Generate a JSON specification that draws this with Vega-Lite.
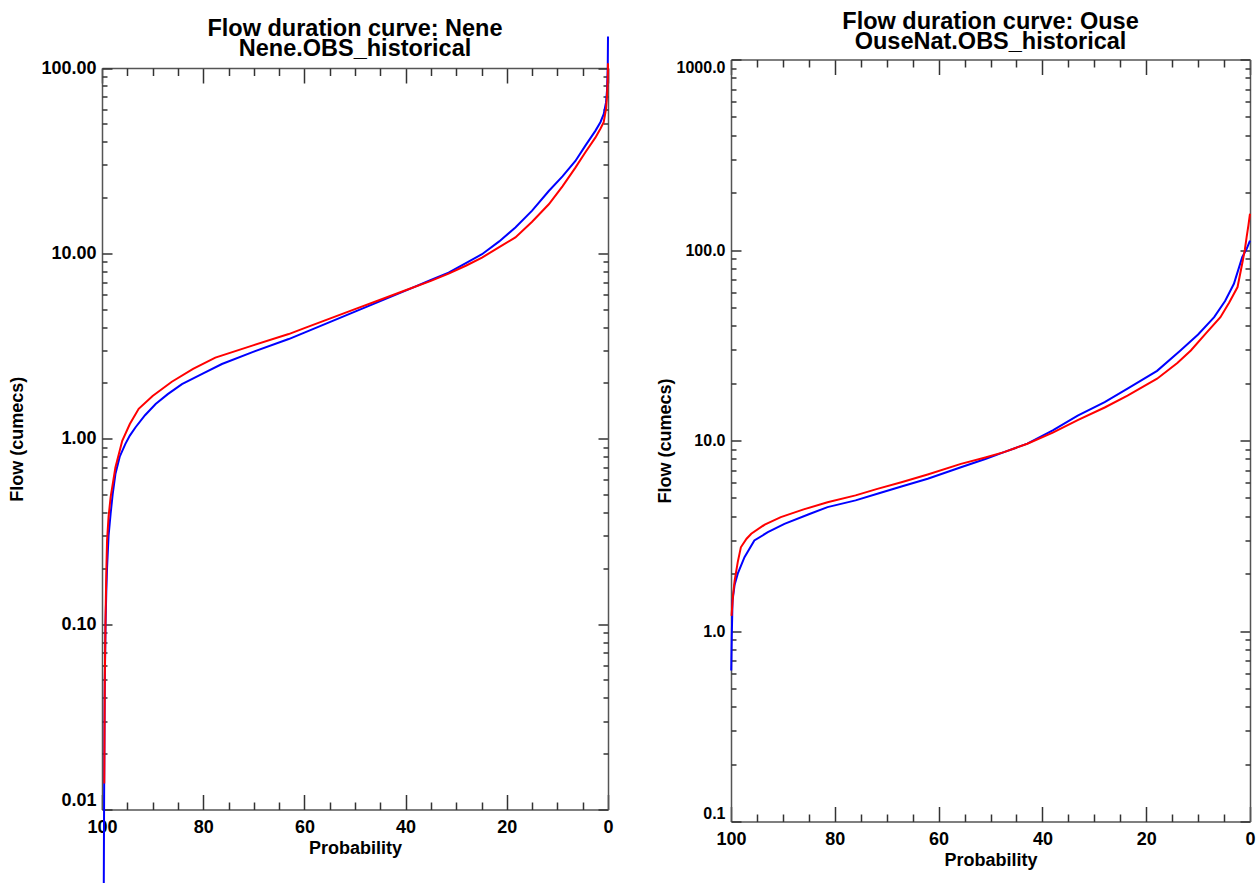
{
  "$schema": "https://vega.github.io/schema/vega-lite/v6.json",
  "padding": {"left": 8, "top": 9.5, "right": 0, "bottom": 0},
  "background": "white",
  "datasets": {
    "nene": [
      {"s":"blue","p":99.65,"q":0.0038},{"s":"blue","p":99.58,"q":0.012},{"s":"blue","p":99.5,"q":0.03},{"s":"blue","p":99.45,"q":0.048},{"s":"blue","p":99.3,"q":0.1},{"s":"blue","p":99.15,"q":0.15},{"s":"blue","p":99.0,"q":0.202},{"s":"blue","p":98.7,"q":0.3},{"s":"blue","p":98.3,"q":0.393},{"s":"blue","p":97.9,"q":0.5},{"s":"blue","p":97.35,"q":0.645},{"s":"blue","p":96.5,"q":0.8},{"s":"blue","p":95.4,"q":0.936},{"s":"blue","p":94.5,"q":1.04},{"s":"blue","p":93.4,"q":1.15},{"s":"blue","p":91.5,"q":1.34},{"s":"blue","p":89.4,"q":1.54},{"s":"blue","p":87,"q":1.74},{"s":"blue","p":84.2,"q":1.97},{"s":"blue","p":80,"q":2.25},{"s":"blue","p":76.3,"q":2.53},{"s":"blue","p":70,"q":2.95},{"s":"blue","p":63.1,"q":3.45},{"s":"blue","p":60,"q":3.74},{"s":"blue","p":55,"q":4.26},{"s":"blue","p":50,"q":4.85},{"s":"blue","p":45,"q":5.53},{"s":"blue","p":40,"q":6.3},{"s":"blue","p":35,"q":7.18},{"s":"blue","p":31.5,"q":7.88},{"s":"blue","p":28,"q":8.9},{"s":"blue","p":24.9,"q":9.9},{"s":"blue","p":21.5,"q":11.6},{"s":"blue","p":18.3,"q":13.8},{"s":"blue","p":15,"q":17.0},{"s":"blue","p":11.7,"q":21.7},{"s":"blue","p":9,"q":26},{"s":"blue","p":6.44,"q":31.5},{"s":"blue","p":4.5,"q":38},{"s":"blue","p":2.5,"q":45.8},{"s":"blue","p":1.5,"q":51},{"s":"blue","p":0.85,"q":56.3},{"s":"blue","p":0.4,"q":65},{"s":"blue","p":0.2,"q":75.2},{"s":"blue","p":0.05,"q":100},{"s":"blue","p":0,"q":148},
      {"s":"red","p":99.55,"q":0.0138},{"s":"red","p":99.45,"q":0.05},{"s":"red","p":99.3,"q":0.109},{"s":"red","p":99.15,"q":0.19},{"s":"red","p":99.0,"q":0.282},{"s":"red","p":98.7,"q":0.38},{"s":"red","p":98.3,"q":0.483},{"s":"red","p":97.35,"q":0.7},{"s":"red","p":96.0,"q":0.975},{"s":"red","p":94.5,"q":1.2},{"s":"red","p":92.75,"q":1.45},{"s":"red","p":90,"q":1.7},{"s":"red","p":86.2,"q":2.03},{"s":"red","p":82,"q":2.38},{"s":"red","p":77.6,"q":2.74},{"s":"red","p":70,"q":3.2},{"s":"red","p":63.1,"q":3.67},{"s":"red","p":60,"q":3.95},{"s":"red","p":55,"q":4.45},{"s":"red","p":50,"q":5.0},{"s":"red","p":45,"q":5.62},{"s":"red","p":40,"q":6.33},{"s":"red","p":35,"q":7.11},{"s":"red","p":31.5,"q":7.78},{"s":"red","p":28,"q":8.6},{"s":"red","p":24.9,"q":9.49},{"s":"red","p":21.5,"q":10.8},{"s":"red","p":18.3,"q":12.2},{"s":"red","p":15,"q":14.8},{"s":"red","p":11.7,"q":18.4},{"s":"red","p":9,"q":23},{"s":"red","p":6.44,"q":29.0},{"s":"red","p":4.5,"q":35},{"s":"red","p":2.5,"q":42.1},{"s":"red","p":1.5,"q":47},{"s":"red","p":0.85,"q":51},{"s":"red","p":0.4,"q":60},{"s":"red","p":0.2,"q":70},{"s":"red","p":0.05,"q":88},{"s":"red","p":0,"q":106}
    ],
    "ouse": [
      {"s":"blue","p":99.95,"q":0.62},{"s":"blue","p":99.85,"q":0.95},{"s":"blue","p":99.7,"q":1.45},{"s":"blue","p":99.3,"q":1.75},{"s":"blue","p":98.7,"q":2.0},{"s":"blue","p":97.4,"q":2.44},{"s":"blue","p":95.5,"q":2.99},{"s":"blue","p":92.9,"q":3.3},{"s":"blue","p":89.7,"q":3.65},{"s":"blue","p":85,"q":4.1},{"s":"blue","p":81.4,"q":4.47},{"s":"blue","p":76,"q":4.85},{"s":"blue","p":71.8,"q":5.25},{"s":"blue","p":67,"q":5.75},{"s":"blue","p":62.1,"q":6.3},{"s":"blue","p":55.7,"q":7.24},{"s":"blue","p":51,"q":8.0},{"s":"blue","p":47.4,"q":8.69},{"s":"blue","p":42.9,"q":9.62},{"s":"blue","p":38,"q":11.3},{"s":"blue","p":33.2,"q":13.5},{"s":"blue","p":28,"q":15.9},{"s":"blue","p":23.6,"q":18.7},{"s":"blue","p":17.9,"q":23.2},{"s":"blue","p":13.4,"q":29.7},{"s":"blue","p":10,"q":36},{"s":"blue","p":6.9,"q":44.4},{"s":"blue","p":4.8,"q":54},{"s":"blue","p":3.1,"q":66.5},{"s":"blue","p":1.5,"q":91.7},{"s":"blue","p":0.6,"q":102},{"s":"blue","p":0,"q":112},
      {"s":"red","p":99.9,"q":1.2},{"s":"red","p":99.6,"q":1.55},{"s":"red","p":99.3,"q":1.84},{"s":"red","p":98.7,"q":2.3},{"s":"red","p":98.1,"q":2.75},{"s":"red","p":97,"q":3.05},{"s":"red","p":96.1,"q":3.24},{"s":"red","p":93.5,"q":3.62},{"s":"red","p":90.4,"q":3.96},{"s":"red","p":86,"q":4.35},{"s":"red","p":81.4,"q":4.74},{"s":"red","p":76,"q":5.15},{"s":"red","p":71.8,"q":5.57},{"s":"red","p":67,"q":6.05},{"s":"red","p":62.1,"q":6.63},{"s":"red","p":55.7,"q":7.54},{"s":"red","p":51,"q":8.15},{"s":"red","p":47.4,"q":8.69},{"s":"red","p":42.9,"q":9.62},{"s":"red","p":38,"q":11.0},{"s":"red","p":33.2,"q":12.8},{"s":"red","p":28,"q":14.9},{"s":"red","p":23.6,"q":17.2},{"s":"red","p":17.9,"q":21.1},{"s":"red","p":14,"q":25.5},{"s":"red","p":11.4,"q":29.7},{"s":"red","p":8.5,"q":36.5},{"s":"red","p":5.7,"q":44.4},{"s":"red","p":4,"q":53},{"s":"red","p":2.4,"q":63.9},{"s":"red","p":1.5,"q":85},{"s":"red","p":1.0,"q":100},{"s":"red","p":0.65,"q":116.7},{"s":"red","p":0.3,"q":135},{"s":"red","p":0,"q":155}
    ]
  },
  "spacing": 42,
  "hconcat": [
    {
      "width": 506,
      "height": 750,
      "title": {"text": ["Flow duration curve: Nene", "Nene.OBS_historical"], "offset": -28.5},
      "data": {"name": "nene"},
      "resolve": {"axis": {"x": "independent", "y": "independent"}},
      "layer": [
        {
          "transform": [{"filter": "datum.s === 'blue'"}],
          "mark": {"type": "line", "color": "#0000ff", "strokeWidth": 2, "clip": false},
          "encoding": {
            "x": {"field": "p", "type": "quantitative", "scale": {"domain": [0, 100], "reverse": true},
                  "axis": {"orient": "bottom", "values": [0, 20, 40, 60, 80, 100], "format": "d", "ticks": false, "tickSize": 0, "labelPadding": 9, "labelFlush": false, "labelOverlap": false, "title": "Probability", "titlePadding": 3}},
            "y": {"field": "q", "type": "quantitative", "scale": {"type": "log", "domain": [0.01, 100], "range": [750, 8.5], "nice": false},
                  "axis": {"orient": "left", "values": [0.01, 0.1, 1, 10, 100], "format": ".2f", "ticks": false, "tickSize": 0, "labelPadding": 6, "labelFlush": false, "labelOverlap": false,
                           "labelBaseline": {"condition": {"test": "datum.value < 0.05", "value": "bottom"}, "value": "middle"},
                           "title": "Flow (cumecs)", "titlePadding": 14}}
          }
        },
        {
          "transform": [{"filter": "datum.s === 'red'"}],
          "mark": {"type": "line", "color": "#ff0000", "strokeWidth": 2, "clip": false},
          "encoding": {
            "x": {"field": "p", "type": "quantitative", "axis": null},
            "y": {"field": "q", "type": "quantitative", "axis": null}
          }
        },
        {
          "mark": {"type": "line", "opacity": 0},
          "encoding": {
            "x": {"field": "p", "type": "quantitative", "axis": {"orient": "bottom", "values": [0, 20, 40, 60, 80, 100], "labels": false, "domain": false, "tickSize": -15, "title": null}},
            "y": {"field": "q", "type": "quantitative", "axis": {"orient": "left", "values": [0.01, 0.1, 1, 10, 100], "labels": false, "domain": false, "tickSize": -10, "title": null}}
          }
        },
        {
          "mark": {"type": "line", "opacity": 0},
          "encoding": {
            "x": {"field": "p", "type": "quantitative", "axis": {"orient": "bottom", "values": [5, 10, 15, 25, 30, 35, 45, 50, 55, 65, 70, 75, 85, 90, 95], "labels": false, "domain": false, "tickSize": -7.5, "title": null}},
            "y": {"field": "q", "type": "quantitative", "axis": {"orient": "left", "values": [0.02, 0.03, 0.04, 0.05, 0.06, 0.07, 0.08, 0.09, 0.2, 0.3, 0.4, 0.5, 0.6, 0.7, 0.8, 0.9, 2, 3, 4, 5, 6, 7, 8, 9, 20, 30, 40, 50, 60, 70, 80, 90], "labels": false, "domain": false, "tickSize": -5, "title": null}}
          }
        },
        {
          "mark": {"type": "line", "opacity": 0},
          "encoding": {
            "x": {"field": "p", "type": "quantitative", "axis": {"orient": "top", "offset": -8.5, "values": [0, 20, 40, 60, 80, 100], "labels": false, "domain": true, "tickSize": -15, "title": null}},
            "y": {"field": "q", "type": "quantitative", "axis": {"orient": "right", "values": [0.01, 0.1, 1, 10, 100], "labels": false, "domain": true, "tickSize": -10, "title": null}}
          }
        },
        {
          "mark": {"type": "line", "opacity": 0},
          "encoding": {
            "x": {"field": "p", "type": "quantitative", "axis": {"orient": "top", "offset": -8.5, "values": [5, 10, 15, 25, 30, 35, 45, 50, 55, 65, 70, 75, 85, 90, 95], "labels": false, "domain": false, "tickSize": -7.5, "title": null}},
            "y": {"field": "q", "type": "quantitative", "axis": {"orient": "right", "values": [0.02, 0.03, 0.04, 0.05, 0.06, 0.07, 0.08, 0.09, 0.2, 0.3, 0.4, 0.5, 0.6, 0.7, 0.8, 0.9, 2, 3, 4, 5, 6, 7, 8, 9, 20, 30, 40, 50, 60, 70, 80, 90], "labels": false, "domain": false, "tickSize": -5, "title": null}}
          }
        }
      ]
    },
    {
      "width": 519,
      "height": 762,
      "title": {"text": ["Flow duration curve: Ouse", "OuseNat.OBS_historical"], "offset": 5.5},
      "data": {"name": "ouse"},
      "resolve": {"axis": {"x": "independent", "y": "independent"}},
      "layer": [
        {
          "transform": [{"filter": "datum.s === 'blue'"}],
          "mark": {"type": "line", "color": "#0000ff", "strokeWidth": 2, "clip": false},
          "encoding": {
            "x": {"field": "p", "type": "quantitative", "scale": {"domain": [0, 100], "reverse": true},
                  "axis": {"orient": "bottom", "values": [0, 20, 40, 60, 80, 100], "format": "d", "ticks": false, "tickSize": 0, "labelPadding": 9, "labelFlush": false, "labelOverlap": false, "title": "Probability", "titlePadding": 3}},
            "y": {"field": "q", "type": "quantitative", "scale": {"type": "log", "domain": [0.1, 1000], "nice": false},
                  "axis": {"orient": "left", "values": [0.1, 1, 10, 100, 1000], "format": ".1f", "ticks": false, "tickSize": 0, "labelPadding": 6, "labelFlush": true, "labelOverlap": false,
                           "labelFontSize": 16,
                           "title": "Flow (cumecs)", "titlePadding": 2}}
          }
        },
        {
          "transform": [{"filter": "datum.s === 'red'"}],
          "mark": {"type": "line", "color": "#ff0000", "strokeWidth": 2, "clip": false},
          "encoding": {
            "x": {"field": "p", "type": "quantitative", "axis": null},
            "y": {"field": "q", "type": "quantitative", "axis": null}
          }
        },
        {
          "mark": {"type": "line", "opacity": 0},
          "encoding": {
            "x": {"field": "p", "type": "quantitative", "axis": {"orient": "bottom", "values": [0, 20, 40, 60, 80, 100], "labels": false, "domain": false, "tickSize": -15, "title": null}},
            "y": {"field": "q", "type": "quantitative", "axis": {"orient": "left", "values": [0.1, 1, 10, 100, 1000], "labels": false, "domain": false, "tickSize": -10, "title": null}}
          }
        },
        {
          "mark": {"type": "line", "opacity": 0},
          "encoding": {
            "x": {"field": "p", "type": "quantitative", "axis": {"orient": "bottom", "values": [5, 10, 15, 25, 30, 35, 45, 50, 55, 65, 70, 75, 85, 90, 95], "labels": false, "domain": false, "tickSize": -7.5, "title": null}},
            "y": {"field": "q", "type": "quantitative", "axis": {"orient": "left", "values": [0.2, 0.3, 0.4, 0.5, 0.6, 0.7, 0.8, 0.9, 2, 3, 4, 5, 6, 7, 8, 9, 20, 30, 40, 50, 60, 70, 80, 90, 200, 300, 400, 500, 600, 700, 800, 900], "labels": false, "domain": false, "tickSize": -5, "title": null}}
          }
        },
        {
          "mark": {"type": "line", "opacity": 0},
          "encoding": {
            "x": {"field": "p", "type": "quantitative", "axis": {"orient": "top", "values": [0, 20, 40, 60, 80, 100], "labels": false, "domain": true, "tickSize": -15, "title": null}},
            "y": {"field": "q", "type": "quantitative", "axis": {"orient": "right", "values": [0.1, 1, 10, 100, 1000], "labels": false, "domain": true, "tickSize": -10, "title": null}}
          }
        },
        {
          "mark": {"type": "line", "opacity": 0},
          "encoding": {
            "x": {"field": "p", "type": "quantitative", "axis": {"orient": "top", "values": [5, 10, 15, 25, 30, 35, 45, 50, 55, 65, 70, 75, 85, 90, 95], "labels": false, "domain": false, "tickSize": -7.5, "title": null}},
            "y": {"field": "q", "type": "quantitative", "axis": {"orient": "right", "values": [0.2, 0.3, 0.4, 0.5, 0.6, 0.7, 0.8, 0.9, 2, 3, 4, 5, 6, 7, 8, 9, 20, 30, 40, 50, 60, 70, 80, 90, 200, 300, 400, 500, 600, 700, 800, 900], "labels": false, "domain": false, "tickSize": -5, "title": null}}
          }
        }
      ]
    }
  ],
  "config": {
    "view": {"stroke": null},
    "axis": {
      "grid": false,
      "labelFont": "Liberation Sans", "labelFontWeight": "bold", "labelFontSize": 18, "labelColor": "#000",
      "titleFont": "Liberation Sans", "titleFontWeight": "bold", "titleFontSize": 18, "titleColor": "#000",
      "domainColor": "#555", "domainWidth": 1.5, "tickColor": "#333", "tickWidth": 1.5
    },
    "title": {"font": "Liberation Sans", "fontSize": 23.5, "fontWeight": "bold", "lineHeight": 20, "color": "#000", "anchor": "middle"}
  }
}
